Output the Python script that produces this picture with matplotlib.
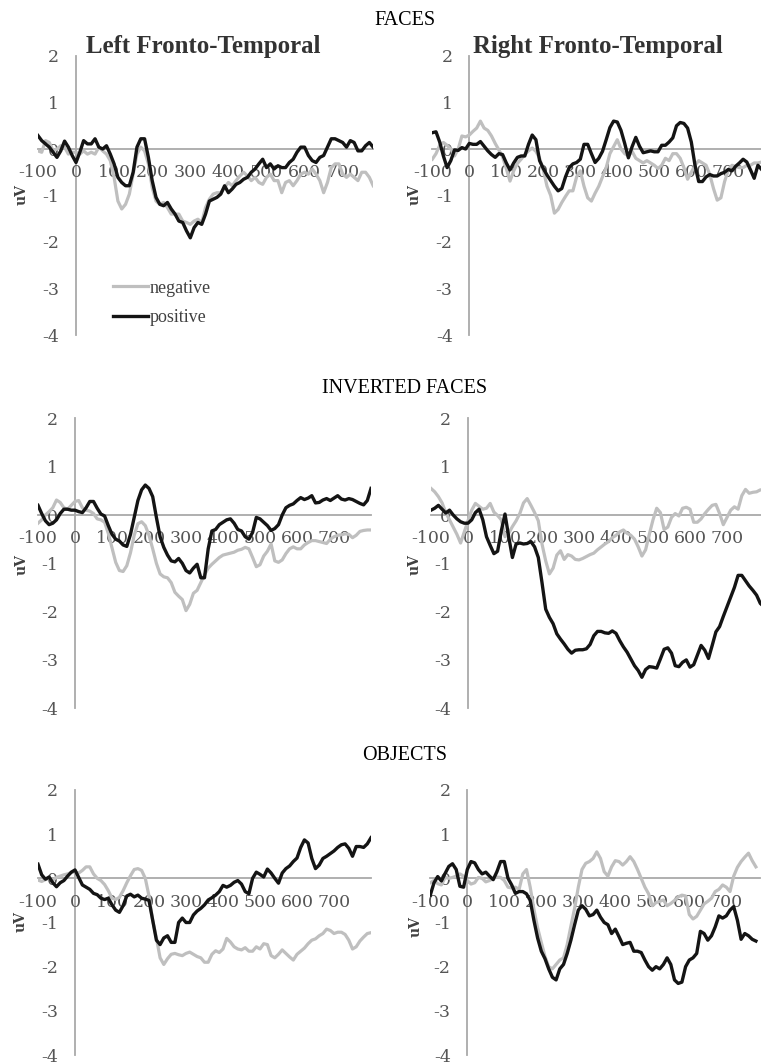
import numpy as np
import matplotlib
matplotlib.use("Agg")
import matplotlib.pyplot as plt

plt.rcParams['font.family'] = ['DejaVu Serif']
plt.rcParams['axes.unicode_minus'] = False

# ---------------- data (uV), sampled every 10 ms ----------------
t_780 = np.arange(-100, 781, 10)   # 89 points
t_790 = np.arange(-100, 791, 10)   # 90 points
t_800 = np.arange(-100, 801, 10)   # 91 points

faces_left_neg = [-0.04, -0.07, 0.18, 0.14, -0.04, 0.0, 0.07, 0.04, -0.11, -0.07,
                  -0.07, -0.11, -0.04, -0.11, -0.07, -0.11, 0.04, -0.04, -0.11, -0.25,
                  -0.61, -1.12, -1.29, -1.19, -0.97, -0.54, -0.11, 0.04, -0.04, -0.32,
                  -0.83, -1.12, -1.19, -1.15, -1.26, -1.4, -1.4, -1.4, -1.55, -1.58,
                  -1.62, -1.55, -1.51, -1.58, -1.26, -1.08, -0.97, -0.94, -0.94, -0.83,
                  -0.72, -0.79, -0.68, -0.58, -0.5, -0.58, -0.68, -0.61, -0.72, -0.76,
                  -0.61, -0.54, -0.68, -0.68, -0.94, -0.72, -0.68, -0.79, -0.68, -0.54,
                  -0.5, -0.54, -0.43, -0.54, -0.68, -0.94, -0.72, -0.4, -0.32, -0.32,
                  -0.54, -0.61, -0.54, -0.61, -0.68, -0.5, -0.5, -0.61, -0.79]
faces_left_pos = [0.29, 0.18, 0.11, 0.04, -0.07, -0.18, -0.04, 0.17, 0.04, -0.14,
                  -0.29, -0.07, 0.18, 0.11, 0.11, 0.22, 0.04, 0.0, 0.07, -0.11,
                  -0.32, -0.61, -0.72, -0.79, -0.79, -0.5, 0.04, 0.22, 0.22, -0.18,
                  -0.68, -1.04, -1.19, -1.22, -1.15, -1.29, -1.4, -1.55, -1.58, -1.76,
                  -1.91, -1.69, -1.58, -1.62, -1.4, -1.12, -1.08, -1.04, -0.97, -0.79,
                  -0.94, -0.86, -0.76, -0.72, -0.65, -0.61, -0.5, -0.43, -0.32, -0.22,
                  -0.4, -0.32, -0.43, -0.36, -0.4, -0.4, -0.29, -0.22, -0.07, 0.04,
                  0.04, -0.14, -0.25, -0.29, -0.18, -0.14, 0.04, 0.22, 0.22, 0.18,
                  0.14, 0.04, 0.18, 0.14, -0.04, -0.04, 0.07, 0.14, 0.04]

faces_right_neg = [-0.22, -0.1, 0.08, 0.14, 0.08, 0.0, -0.15, 0.0, 0.28, 0.26,
                   0.3, 0.38, 0.45, 0.6, 0.45, 0.4, 0.28, 0.12, -0.02, -0.17,
                   -0.42, -0.69, -0.47, -0.31, -0.22, -0.12, -0.04, 0.02, -0.05, -0.2,
                   -0.45, -0.8, -1.0, -1.38, -1.3, -1.15, -1.02, -0.9, -0.9, -0.6,
                   -0.47, -0.8, -1.05, -1.12, -0.95, -0.8, -0.6, -0.4, -0.1, 0.05,
                   0.2, 0.0, -0.1, -0.15, -0.05, -0.2, -0.25, -0.3, -0.25, -0.3,
                   -0.35, -0.42, -0.35, -0.2, -0.25, -0.1, -0.1, -0.2, -0.4, -0.65,
                   -0.5, -0.35, -0.25, -0.3, -0.35, -0.55, -0.85, -1.1, -1.05, -0.7,
                   -0.45, -0.35, -0.38, -0.4, -0.4, -0.35, -0.35, -0.3, -0.3, -0.28]
faces_right_pos = [0.35, 0.37, 0.15, -0.15, -0.4, -0.25, -0.02, -0.03, 0.03, 0.0,
                   0.12, 0.1, 0.1, 0.16, 0.06, -0.04, -0.12, -0.18, -0.1, -0.12,
                   -0.3, -0.45, -0.3, -0.18, -0.15, -0.15, 0.1, 0.3, 0.2, -0.25,
                   -0.42, -0.56, -0.68, -0.8, -0.9, -0.85, -0.6, -0.4, -0.32, -0.29,
                   -0.22, 0.1, 0.1, -0.1, -0.29, -0.2, -0.05, 0.2, 0.46, 0.6,
                   0.58, 0.4, 0.12, -0.19, 0.05, 0.25, 0.06, -0.08, -0.06, -0.04,
                   -0.06, -0.06, 0.08, 0.08, 0.15, 0.24, 0.5, 0.57, 0.55, 0.45,
                   0.15, -0.35, -0.7, -0.7, -0.6, -0.55, -0.58, -0.58, -0.53, -0.5,
                   -0.44, -0.47, -0.37, -0.3, -0.22, -0.28, -0.45, -0.63, -0.35, -0.44]

inv_left_neg = [-0.17, -0.1, 0.0, 0.07, 0.15, 0.31, 0.26, 0.15, 0.12, 0.2,
                0.28, 0.3, 0.15, 0.1, 0.08, 0.03, -0.08, -0.1, -0.15, -0.38,
                -0.68, -0.98, -1.15, -1.17, -1.05, -0.78, -0.42, -0.18, -0.14, -0.22,
                -0.42, -0.7, -1.0, -1.22, -1.28, -1.3, -1.4, -1.6, -1.68, -1.75,
                -1.98, -1.85, -1.62, -1.56, -1.4, -1.24, -1.1, -1.02, -0.95, -0.88,
                -0.83, -0.81, -0.79, -0.77, -0.73, -0.71, -0.67, -0.7, -0.88, -1.07,
                -1.03, -0.85, -0.75, -0.6, -0.95, -0.98, -0.93, -0.8, -0.7, -0.66,
                -0.7, -0.7, -0.62, -0.57, -0.53, -0.53, -0.55, -0.57, -0.59, -0.5,
                -0.45, -0.42, -0.41, -0.39, -0.4, -0.47, -0.42, -0.34, -0.32, -0.31,
                -0.31]
inv_left_pos = [0.2, 0.03, -0.12, -0.2, -0.17, -0.1, 0.03, 0.12, 0.12, 0.1,
                0.1, 0.07, 0.05, 0.15, 0.28, 0.28, 0.14, 0.02, -0.02, -0.22,
                -0.4, -0.5, -0.54, -0.62, -0.65, -0.4, -0.05, 0.3, 0.52, 0.62,
                0.55, 0.38, -0.05, -0.45, -0.67, -0.83, -0.95, -0.97, -0.9, -1.0,
                -1.15, -1.2, -1.1, -1.02, -1.3, -1.3, -0.7, -0.33, -0.3, -0.2,
                -0.15, -0.1, -0.08, -0.17, -0.3, -0.33, -0.45, -0.5, -0.36, -0.05,
                -0.08, -0.15, -0.22, -0.32, -0.28, -0.2, 0.0, 0.15, 0.2, 0.23,
                0.3, 0.36, 0.32, 0.35, 0.4, 0.25, 0.26, 0.31, 0.34, 0.3,
                0.35, 0.4, 0.33, 0.31, 0.34, 0.32, 0.28, 0.24, 0.21, 0.3,
                0.55]

inv_right_neg = [0.55, 0.48, 0.38, 0.25, 0.05, -0.1, -0.25, -0.4, -0.58, -0.35,
                 -0.12, 0.1, 0.24, 0.18, 0.12, 0.14, 0.24, 0.06, -0.01, -0.1,
                 -0.45, -0.38, -0.24, -0.12, 0.03, 0.25, 0.34, 0.2, 0.05, -0.12,
                 -0.6, -0.95, -1.22, -1.1, -0.83, -0.74, -0.92, -0.82, -0.85, -0.92,
                 -0.93, -0.9, -0.86, -0.82, -0.79, -0.72, -0.66, -0.6, -0.55, -0.47,
                 -0.42, -0.35, -0.31, -0.38, -0.42, -0.5, -0.66, -0.85, -0.72, -0.4,
                 -0.1, 0.14, 0.05, -0.3, -0.25, -0.05, 0.03, -0.02, 0.14, 0.16,
                 0.12, -0.15, -0.15, -0.08, 0.03, 0.12, 0.2, 0.22, 0.03, -0.2,
                 -0.05, 0.1, 0.17, 0.12, 0.4, 0.53, 0.45, 0.47, 0.48, 0.52,
                 0.52]
inv_right_pos = [0.1, 0.14, 0.2, 0.12, 0.04, 0.1, 0.0, -0.08, -0.14, -0.17,
                 -0.17, -0.1, 0.05, 0.12, -0.1, -0.45, -0.63, -0.8, -0.75, -0.33,
                 0.02, -0.45, -0.88, -0.6, -0.58, -0.6, -0.59, -0.55, -0.66, -0.88,
                 -1.4, -1.95, -2.12, -2.25, -2.46, -2.57, -2.67, -2.78, -2.86, -2.8,
                 -2.79, -2.79, -2.77, -2.68, -2.5, -2.41, -2.41, -2.44, -2.45, -2.4,
                 -2.45, -2.6, -2.73, -2.84, -2.98, -3.12, -3.22, -3.36, -3.2, -3.14,
                 -3.15, -3.17, -2.98, -2.78, -2.75, -2.86, -3.12, -3.14, -3.05, -3.0,
                 -3.15, -3.1, -2.9, -2.7, -2.8, -2.97, -2.7, -2.42, -2.31, -2.1,
                 -1.9, -1.7, -1.5, -1.25, -1.25, -1.36, -1.47, -1.56, -1.66, -1.83,
                 -1.9]

obj_left_neg = [-0.04, -0.07, -0.03, 0.0, -0.04, 0.02, 0.05, 0.08, 0.1, 0.13,
                0.15, 0.12, 0.18, 0.26, 0.26, 0.1, 0.0, -0.05, -0.14, -0.28,
                -0.45, -0.48, -0.43, -0.28, -0.1, 0.06, 0.2, 0.22, 0.18, 0.0,
                -0.4, -0.95, -1.35, -1.8, -1.95, -1.82, -1.72, -1.7, -1.73, -1.75,
                -1.7, -1.67, -1.72, -1.77, -1.8, -1.9, -1.9, -1.72, -1.64, -1.68,
                -1.6, -1.36, -1.44, -1.55, -1.6, -1.62, -1.57, -1.65, -1.65, -1.55,
                -1.6, -1.48, -1.5, -1.75, -1.8, -1.72, -1.62, -1.7, -1.78, -1.85,
                -1.72, -1.65, -1.58, -1.48, -1.4, -1.37, -1.3, -1.25, -1.15, -1.18,
                -1.25, -1.22, -1.22, -1.27, -1.4, -1.6, -1.55, -1.42, -1.33, -1.25,
                -1.23]
obj_left_pos = [0.32, 0.08, -0.02, 0.03, -0.1, -0.19, -0.1, -0.05, 0.05, 0.14,
                0.19, 0.02, -0.15, -0.2, -0.25, -0.34, -0.37, -0.45, -0.48, -0.45,
                -0.6, -0.72, -0.77, -0.62, -0.4, -0.36, -0.42, -0.38, -0.45, -0.47,
                -0.5, -0.95, -1.4, -1.5, -1.35, -1.3, -1.45, -1.45, -1.0, -0.9,
                -1.0, -1.0, -0.83, -0.74, -0.68, -0.6, -0.49, -0.44, -0.38, -0.3,
                -0.16, -0.2, -0.16, -0.09, -0.05, -0.13, -0.3, -0.35, 0.0, 0.14,
                0.09, 0.03, 0.21, 0.12, 0.0, -0.11, 0.12, 0.22, 0.28, 0.38,
                0.46, 0.7, 0.87, 0.8, 0.45, 0.22, 0.3, 0.45, 0.5, 0.56,
                0.62, 0.7, 0.76, 0.78, 0.68, 0.5, 0.72, 0.72, 0.7, 0.78,
                0.92]

obj_right_neg = [-0.1, -0.05, -0.12, -0.15, 0.02, 0.0, 0.02, 0.05, 0.1, 0.05,
                 -0.05, -0.13, -0.1, 0.02, 0.0, -0.08, -0.05, 0.0, 0.03, 0.02,
                 -0.05, -0.2, -0.22, -0.2, -0.25, 0.1, 0.2, -0.2, -0.7, -1.12,
                 -1.45, -1.77, -2.0, -2.05, -1.95, -1.85, -1.8, -1.5, -1.08, -0.68,
                 -0.2, 0.2, 0.34, 0.38, 0.45, 0.6, 0.45, 0.15, 0.05, 0.26,
                 0.4, 0.38, 0.3, 0.38, 0.49, 0.38, 0.2, 0.0, -0.2, -0.35,
                 -0.62, -0.55, -0.52, -0.49, -0.62, -0.57, -0.5, -0.42, -0.38, -0.4,
                 -0.82, -0.92, -0.86, -0.72, -0.58, -0.52, -0.45, -0.3, -0.25, -0.15,
                 -0.2, -0.3, 0.05, 0.25, 0.38, 0.48, 0.57, 0.4, 0.26]
obj_right_pos = [-0.38, -0.1, 0.04, -0.06, 0.11, 0.27, 0.33, 0.2, -0.18, -0.2,
                 0.2, 0.38, 0.35, 0.2, 0.1, 0.14, 0.05, -0.03, 0.15, 0.38,
                 0.38, 0.0, -0.15, -0.34, -0.3, -0.3, -0.35, -0.5, -0.95, -1.35,
                 -1.65, -1.82, -2.05, -2.24, -2.3, -2.05, -1.95, -1.7, -1.4, -1.05,
                 -0.72, -0.62, -0.7, -0.85, -0.82, -0.72, -0.88, -1.0, -1.05, -1.25,
                 -1.15, -1.32, -1.5, -1.47, -1.45, -1.65, -1.65, -1.68, -1.85, -2.0,
                 -2.08, -2.0, -2.05, -1.95, -1.8, -1.95, -2.3, -2.38, -2.35, -2.0,
                 -1.85, -1.8, -1.7, -1.2, -1.25, -1.4, -1.3, -1.1, -0.85, -0.9,
                 -0.85, -0.72, -0.64, -0.95, -1.38, -1.25, -1.3, -1.38, -1.42]

x_tick_values = [-100, 0, 100, 200, 300, 400, 500, 600, 700]
x_tick_labels = ["-100", "0", "100", "200", "300", "400", "500", "600", "700"]
y_tick_values = [2, 1, 0, -1, -2, -3, -4]
y_tick_labels = ["2", "1", "0", "-1", "-2", "-3", "-4"]
section_titles = ["FACES", "INVERTED FACES", "OBJECTS"]
panel_titles = ["Left Fronto-Temporal", "Right Fronto-Temporal"]
series_names = ["negative", "positive"]
y_title = "uV"

# ---------------- layout (pixels) ----------------
W, H = 761, 1064
fig = plt.figure(figsize=(W / 100, H / 100), dpi=100)

NEG_COLOR = '#bfbfbf'
POS_COLOR = '#141414'
AXIS_COLOR = '#a9a9a9'
TICK_COLOR = '#555555'

# (t, neg, pos, x-pixel of 0 ms, px per ms, xmax, pixel y of +2, pixel y of -4, uV x, uV y)
panels = [
    (t_780, faces_left_neg, faces_left_pos, 76.0, 0.381, 780, 56, 335, 22, 195),
    (t_790, faces_right_neg, faces_right_pos, 469.3, 0.37, 800, 56, 335, 415, 195),
    (t_800, inv_left_neg, inv_left_pos, 75.0, 0.37, 800, 418.4, 708.2, 22, 565),
    (t_800, inv_right_neg, inv_right_pos, 468.0, 0.37, 800, 418.4, 708.2, 415, 565),
    (t_800, obj_left_neg, obj_left_pos, 75.0, 0.37, 800, 790, 1055, 21, 922),
    (t_780, obj_right_neg, obj_right_pos, 467.3, 0.37, 790, 790, 1055, 416, 927),
]

axes = []
for (t, neg, pos, x0, s, xmax, ytop, ybot, uvx, uvy) in panels:
    left = x0 - 100 * s
    width = (xmax + 100) * s
    height = ybot - ytop
    ax = fig.add_axes([left / W, 1 - ybot / H, width / W, height / H])
    ax.patch.set_visible(False)
    ax.set_xlim(-100, xmax)
    ax.set_ylim(-4, 2)
    l1, = ax.plot(t, neg, color=NEG_COLOR, lw=2.3, solid_joinstyle='round', zorder=3)
    l2, = ax.plot(t, pos, color=POS_COLOR, lw=2.4, solid_joinstyle='round', zorder=4)
    for side in ('top', 'right'):
        ax.spines[side].set_visible(False)
    ax.spines['left'].set_position(('data', 0))
    ax.spines['bottom'].set_position(('data', 0))
    for side in ('left', 'bottom'):
        ax.spines[side].set_color(AXIS_COLOR)
        ax.spines[side].set_linewidth(1.3)
        ax.spines[side].set_zorder(1)
    ax.set_xticks(x_tick_values, x_tick_labels)
    ax.set_yticks(y_tick_values, y_tick_labels)
    ax.tick_params(axis='x', length=0, pad=11, labelsize=12.5, labelcolor=TICK_COLOR)
    ax.tick_params(axis='y', length=0, pad=12, labelsize=12.5, labelcolor=TICK_COLOR)
    fig.text(uvx / W, 1 - uvy / H, y_title, rotation=90, ha='center', va='center',
             fontsize=10, fontweight='bold', color='#404040', family='DejaVu Serif')
    axes.append((ax, l1, l2))

# legend in the first panel
ax0, l1, l2 = axes[0]
ax0.legend([l1, l2], series_names, loc='center left',
           bbox_to_anchor=(113 / W, 1 - 303 / H), bbox_transform=fig.transFigure,
           frameon=False, handlelength=1.95, handletextpad=0.1, labelspacing=0.7,
           borderpad=0, borderaxespad=0,
           prop={'family': 'Liberation Serif', 'size': 13}, labelcolor='#404040')

# section titles
for title, yb in zip(section_titles, [25, 393, 760]):
    fig.text(405 / W, 1 - yb / H, title, ha='center', va='baseline',
             fontsize=14.5, family='Liberation Serif', color='black')

# panel titles
for title, xc in zip(panel_titles, [203, 598]):
    fig.text(xc / W, 1 - 53 / H, title, ha='center', va='baseline',
             fontsize=17.9, fontweight='bold', family='Liberation Serif', color='#333333')

fig.savefig('out.png', dpi=100)
